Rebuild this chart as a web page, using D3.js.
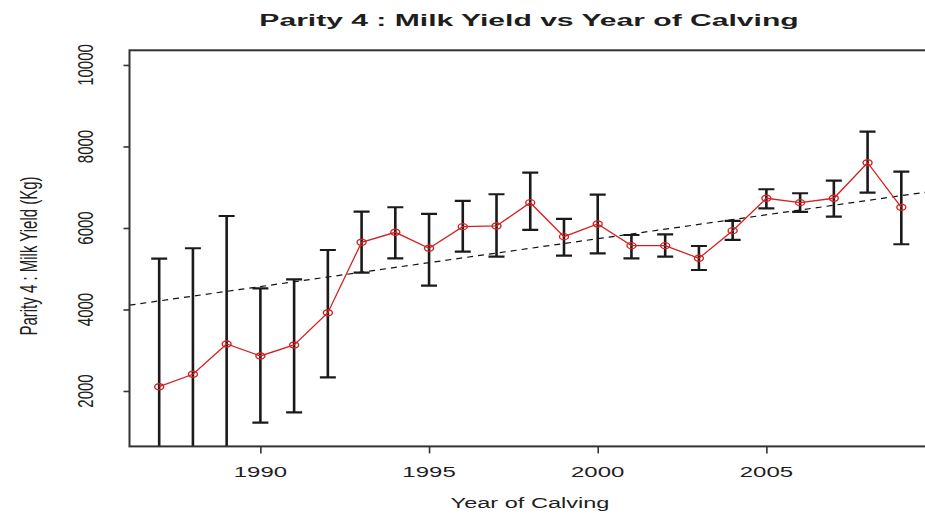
<!DOCTYPE html>
<html>
<head>
<meta charset="utf-8">
<script src="https://cdn.jsdelivr.net/npm/d3@7"></script>
<style>
  html, body { margin: 0; padding: 0; background: #fff; }
  svg { display: block; }
  text { font-family: "Liberation Sans", Arial, sans-serif; fill: #1e1e1e; }
</style>
</head>
<body>
<svg id="chart" width="925" height="515"></svg>
<script>
// Year of calving for parity-4 cows
const years = [1987, 1988, 1989, 1990, 1991, 1992, 1993, 1994, 1995, 1996, 1997, 1998,
               1999, 2000, 2001, 2002, 2003, 2004, 2005, 2006, 2007, 2008, 2009];
// Mean milk yield (kg)
const meanYield = [2105, 2410, 3153, 2859, 3129, 3921, 5649, 5894, 5502, 6032, 6049, 6621,
                   5787, 6098, 5566, 5566, 5256, 5934, 6729, 6621, 6729, 7602, 6508];
// Lower and upper ends of the error bars (kg)
const lowYield  = [-1037, -690, 12, 1222, 1477, 2336, 4903, 5256, 4584, 5418, 5296, 5951,
                   5320, 5379, 5256, 5296, 4969, 5706, 6483, 6393, 6277, 6866, 5600];
const highYield = [5247, 5502, 6294, 4520, 4741, 5460, 6400, 6508, 6344, 6663, 6827, 7357,
                   6221, 6817, 5828, 5845, 5558, 6172, 6950, 6852, 7161, 8363, 7382];
// Fitted linear trend: value at 1987 and slope (kg per year)
const trendYear0 = 1987;
const trendValue0 = 4210;
const trendSlope = 117.4;

const xTicks = [1990, 1995, 2000, 2005];
const yTicks = [2000, 4000, 6000, 8000, 10000];
const xLimits = [1987, 2009];
const yLimits = [1000, 10000];

const titleText = "Parity 4 : Milk Yield vs Year of Calving";
const xTitle = "Year of Calving";
const yTitle = "Parity 4 : Milk Yield (Kg)";

const svg = d3.select("#chart");
svg.append("rect").attr("width", 925).attr("height", 515).attr("fill", "#fff");

// R-style 4% axis expansion
const pad = (lim) => { const d = (lim[1] - lim[0]) * 0.04; return [lim[0] - d, lim[1] + d]; };
const x = d3.scaleLinear().domain(pad(xLimits)).range([129.5, 931]);
const y = d3.scaleLinear().domain(pad(yLimits)).range([446.4, 50.3]);

const [px0, px1] = x.range();
const [py0, py1] = y.range();

svg.append("clipPath").attr("id", "plotClip")
  .append("rect").attr("x", px0).attr("y", py1).attr("width", px1 - px0).attr("height", py0 - py1);

const plot = svg.append("g").attr("clip-path", "url(#plotClip)");

// Trend line across the whole plot region
const xd = x.domain();
plot.append("line")
  .attr("x1", x(xd[0])).attr("y1", y(trendValue0 + trendSlope * (xd[0] - trendYear0)))
  .attr("x2", x(xd[1])).attr("y2", y(trendValue0 + trendSlope * (xd[1] - trendYear0)))
  .attr("stroke", "#111").attr("stroke-width", 1.2).attr("stroke-dasharray", "6,5");

// Error bars
const bars = plot.selectAll("g.bar").data(years).join("g").attr("class", "bar");
const capHalf = 8;
bars.append("line")
  .attr("x1", (d) => x(d)).attr("x2", (d) => x(d))
  .attr("y1", (d, i) => y(lowYield[i])).attr("y2", (d, i) => y(highYield[i]))
  .attr("stroke", "#1a1a1a").attr("stroke-width", 2.6);
bars.append("line")
  .attr("x1", (d) => x(d) - capHalf).attr("x2", (d) => x(d) + capHalf)
  .attr("y1", (d, i) => y(highYield[i])).attr("y2", (d, i) => y(highYield[i]))
  .attr("stroke", "#1a1a1a").attr("stroke-width", 2.2);
bars.append("line")
  .attr("x1", (d) => x(d) - capHalf).attr("x2", (d) => x(d) + capHalf)
  .attr("y1", (d, i) => y(lowYield[i])).attr("y2", (d, i) => y(lowYield[i]))
  .attr("stroke", "#1a1a1a").attr("stroke-width", 2.2);

// Mean yield line with open markers
const line = d3.line().x((d) => x(d[0])).y((d) => y(d[1]));
const pts = years.map((yr, i) => [yr, meanYield[i]]);
plot.append("path").datum(pts).attr("d", line)
  .attr("fill", "none").attr("stroke", "#d42020").attr("stroke-width", 1.3);
plot.selectAll("ellipse.pt").data(pts).join("ellipse").attr("class", "pt")
  .attr("cx", (d) => x(d[0])).attr("cy", (d) => y(d[1]))
  .attr("rx", 4.5).attr("ry", 3)
  .attr("fill", "none").attr("stroke", "#d42020").attr("stroke-width", 1.4);

// Plot frame
svg.append("rect").attr("x", px0).attr("y", py1).attr("width", px1 - px0).attr("height", py0 - py1)
  .attr("fill", "none").attr("stroke", "#333").attr("stroke-width", 2);

// Axes
const xAxis = svg.append("g").attr("transform", `translate(0,${py0})`)
  .call(d3.axisBottom(x).tickValues(xTicks).tickSize(7).tickFormat(""));
const yAxis = svg.append("g").attr("transform", `translate(${px0},0)`)
  .call(d3.axisLeft(y).tickValues(yTicks).tickSize(6).tickFormat(""));
[xAxis, yAxis].forEach((a) => {
  a.select(".domain").remove();
  a.selectAll(".tick line").attr("stroke", "#333").attr("stroke-width", 1.6);
});

// Tick labels (horizontally widened lettering)
svg.selectAll("text.xt").data(xTicks).join("text").attr("class", "xt")
  .attr("text-anchor", "middle").attr("font-size", 15)
  .attr("transform", (d) => `translate(${x(d)},477) scale(1.6,1)`)
  .text((d) => d);
svg.selectAll("text.yt").data(yTicks).join("text").attr("class", "yt")
  .attr("text-anchor", "middle").attr("font-size", 15)
  .attr("transform", (d) => `translate(93.3,${y(d)}) scale(1.48,1) rotate(-90)`)
  .text((d) => d);

// Titles
svg.append("text").attr("text-anchor", "middle").attr("font-size", 17).attr("font-weight", "bold")
  .attr("transform", `translate(529,26) scale(1.77,1)`)
  .text(titleText);
svg.append("text").attr("text-anchor", "middle").attr("font-size", 15)
  .attr("transform", `translate(530,508) scale(1.57,1)`)
  .text(xTitle);
svg.append("text").attr("text-anchor", "middle").attr("font-size", 15)
  .attr("transform", `translate(37,256) scale(1.65,1) rotate(-90)`)
  .text(yTitle);
</script>
</body>
</html>
